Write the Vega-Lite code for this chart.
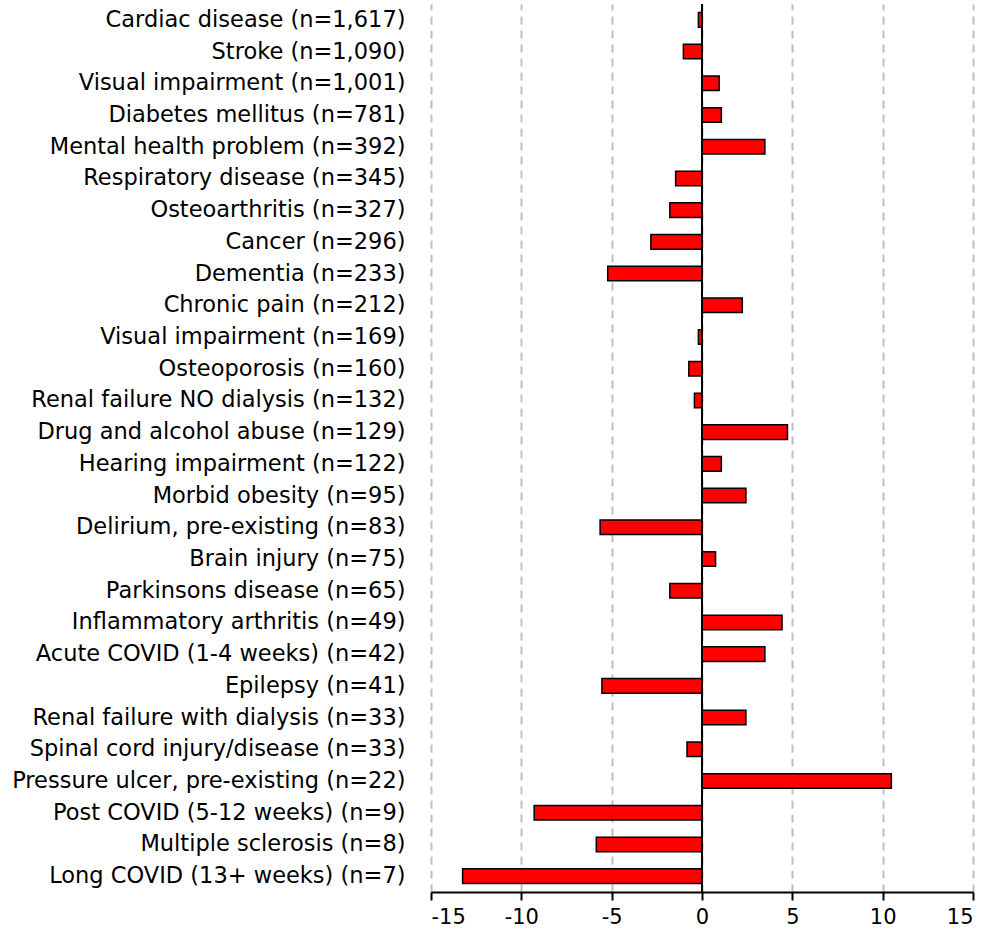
{
  "$schema": "https://vega.github.io/schema/vega-lite/v6.json",
  "autosize": {"type": "none"},
  "padding": {"left": 431, "top": 4, "right": 20, "bottom": 45},
  "width": 542,
  "height": 888,
  "background": "white",
  "config": {"view": {"stroke": null}, "font": "DejaVu Sans"},
  "data": {"values": [
    {"condition": "Cardiac disease (n=1,617)", "value": -0.2},
    {"condition": "Stroke (n=1,090)", "value": -1.03},
    {"condition": "Visual impairment (n=1,001)", "value": 0.95},
    {"condition": "Diabetes mellitus (n=781)", "value": 1.07},
    {"condition": "Mental health problem (n=392)", "value": 3.48},
    {"condition": "Respiratory disease (n=345)", "value": -1.46},
    {"condition": "Osteoarthritis (n=327)", "value": -1.78},
    {"condition": "Cancer (n=296)", "value": -2.83},
    {"condition": "Dementia (n=233)", "value": -5.22},
    {"condition": "Chronic pain (n=212)", "value": 2.23},
    {"condition": "Visual impairment (n=169)", "value": -0.2},
    {"condition": "Osteoporosis (n=160)", "value": -0.73},
    {"condition": "Renal failure NO dialysis (n=132)", "value": -0.42},
    {"condition": "Drug and alcohol abuse (n=129)", "value": 4.73},
    {"condition": "Hearing impairment (n=122)", "value": 1.07},
    {"condition": "Morbid obesity (n=95)", "value": 2.43},
    {"condition": "Delirium, pre-existing (n=83)", "value": -5.64},
    {"condition": "Brain injury (n=75)", "value": 0.75},
    {"condition": "Parkinsons disease (n=65)", "value": -1.78},
    {"condition": "Inflammatory arthritis (n=49)", "value": 4.43},
    {"condition": "Acute COVID (1-4 weeks) (n=42)", "value": 3.48},
    {"condition": "Epilepsy (n=41)", "value": -5.54},
    {"condition": "Renal failure with dialysis (n=33)", "value": 2.43},
    {"condition": "Spinal cord injury/disease (n=33)", "value": -0.83},
    {"condition": "Pressure ulcer, pre-existing (n=22)", "value": 10.48},
    {"condition": "Post COVID (5-12 weeks) (n=9)", "value": -9.29},
    {"condition": "Multiple sclerosis (n=8)", "value": -5.85},
    {"condition": "Long COVID (13+ weeks) (n=7)", "value": -13.25}
  ]},
  "layer": [
    {
      "mark": {"type": "bar", "color": "#ff0000", "stroke": "black", "strokeWidth": 1.5},
      "encoding": {
        "y": {
          "field": "condition", "type": "nominal", "sort": null,
          "scale": {"paddingInner": 0.54, "paddingOuter": 0.27},
          "axis": {"title": null, "domain": false, "ticks": false, "labelPadding": 26, "labelFontSize": 22.5, "labelColor": "black", "labelLimit": 500, "labelFont": "DejaVu Sans"}
        },
        "x": {
          "field": "value", "type": "quantitative",
          "scale": {"domain": [-15, 15], "nice": false, "zero": false},
          "axis": {"title": null, "values": [-15, -10, -5, 0, 5, 10, 15], "labelExpr": "'' + datum.value", "grid": true, "gridDash": [8, 6], "gridColor": "#c0c0c0", "gridWidth": 2, "domainColor": "black", "domainWidth": 2, "tickColor": "black", "tickWidth": 2, "tickSize": 8, "labelPadding": 6, "labelFontSize": 21, "labelColor": "black", "labelFont": "DejaVu Sans"}
        }
      }
    },
    {
      "mark": {"type": "rule", "color": "black", "strokeWidth": 2},
      "encoding": {"x": {"datum": 0}}
    }
  ]
}
